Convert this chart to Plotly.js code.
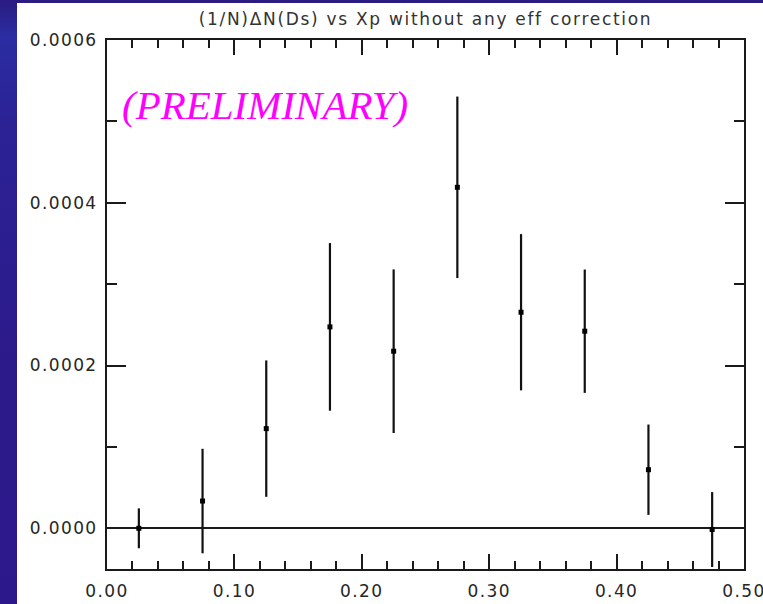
<!DOCTYPE html>
<html>
<head>
<meta charset="utf-8">
<script src="https://cdn.plot.ly/plotly-3.0.1.min.js"></script>
<style>
  html, body { margin: 0; padding: 0; width: 763px; height: 604px; overflow: hidden; }
  body {
    background: linear-gradient(to bottom, #2a1b80 0%, #2b2da2 6%, #2b2296 20%, #2c1a8a 60%, #2c188a 100%);
    position: relative;
  }
  #chart { position: absolute; left: 17px; top: 3px; width: 760px; height: 601px; background: #fff; }
  #chart .xtick text, #chart .ytick text { letter-spacing: 1.4px; }
  #chart .gtitle { letter-spacing: 1.7px; }
</style>
</head>
<body>
<div id="chart"></div>
<script>
// Ds yield per event in bins of scaled momentum Xp
const xp     = [0.025, 0.075, 0.125, 0.175, 0.225, 0.275, 0.325, 0.375, 0.425, 0.475];
const yieldN = [0.0000000, 0.0000335, 0.0001225, 0.0002475, 0.0002176, 0.0004190, 0.0002655, 0.0002422, 0.0000720, -0.0000015];
const errN   = [0.0000245, 0.0000642, 0.0000838, 0.0001030, 0.0001005, 0.0001115, 0.0000960, 0.0000758, 0.0000555, 0.0000460];

const titleText = '(1/N)\u0394N(Ds) vs Xp without any eff correction';
const stampText = '(PRELIMINARY)';

const textFont = { family: 'DejaVu Sans, Arial, sans-serif', size: 17, color: '#262626' };

const trace = {
  type: 'scatter',
  mode: 'markers',
  x: xp,
  y: yieldN,
  marker: { symbol: 'square', size: 5, color: '#000' },
  error_y: { type: 'data', array: errN, visible: true, thickness: 2.2, width: 0, color: '#111' },
  hoverinfo: 'x+y'
};

const layout = {
  width: 760,
  height: 601,
  margin: { l: 90, r: 33, t: 37, b: 35 },
  paper_bgcolor: '#ffffff',
  plot_bgcolor: '#ffffff',
  showlegend: false,
  title: {
    text: titleText,
    font: { family: 'DejaVu Sans, Arial, sans-serif', size: 17, color: '#333' },
    xref: 'paper', x: 0.5, xanchor: 'center',
    yref: 'container', y: 0.9725, yanchor: 'middle'
  },
  xaxis: {
    range: [0, 0.5],
    tick0: 0, dtick: 0.1, tickformat: '.2f',
    ticks: 'inside', ticklen: 15, tickwidth: 2, tickcolor: '#1a1a1a',
    minor: { dtick: 0.02, ticks: 'inside', ticklen: 8, tickwidth: 2, tickcolor: '#1a1a1a', showgrid: false },
    showline: true, linecolor: '#1a1a1a', linewidth: 2, mirror: 'ticks',
    showgrid: false, zeroline: false,
    tickfont: textFont, ticklabelstandoff: 6,
    fixedrange: true
  },
  yaxis: {
    range: [-0.00005, 0.0006],
    tick0: 0, dtick: 0.0002, tickformat: '.4f',
    ticks: 'inside', ticklen: 19, tickwidth: 2, tickcolor: '#1a1a1a',
    minor: { dtick: 0.0001, ticks: 'inside', ticklen: 10, tickwidth: 2, tickcolor: '#1a1a1a', showgrid: false },
    showline: true, linecolor: '#1a1a1a', linewidth: 2, mirror: 'ticks',
    showgrid: false,
    zeroline: true, zerolinecolor: '#1a1a1a', zerolinewidth: 2,
    tickfont: textFont, ticklabelstandoff: 4,
    fixedrange: true
  },
  annotations: [{
    text: stampText,
    xref: 'paper', yref: 'paper',
    x: 0.248, y: 0.877, xanchor: 'center', yanchor: 'middle',
    showarrow: false,
    font: { family: 'Liberation Serif, Times New Roman, serif', size: 41, color: '#ff00ff', style: 'italic' }
  }]
};

Plotly.newPlot('chart', [trace], layout, { displayModeBar: false, staticPlot: true });
</script>
</body>
</html>
